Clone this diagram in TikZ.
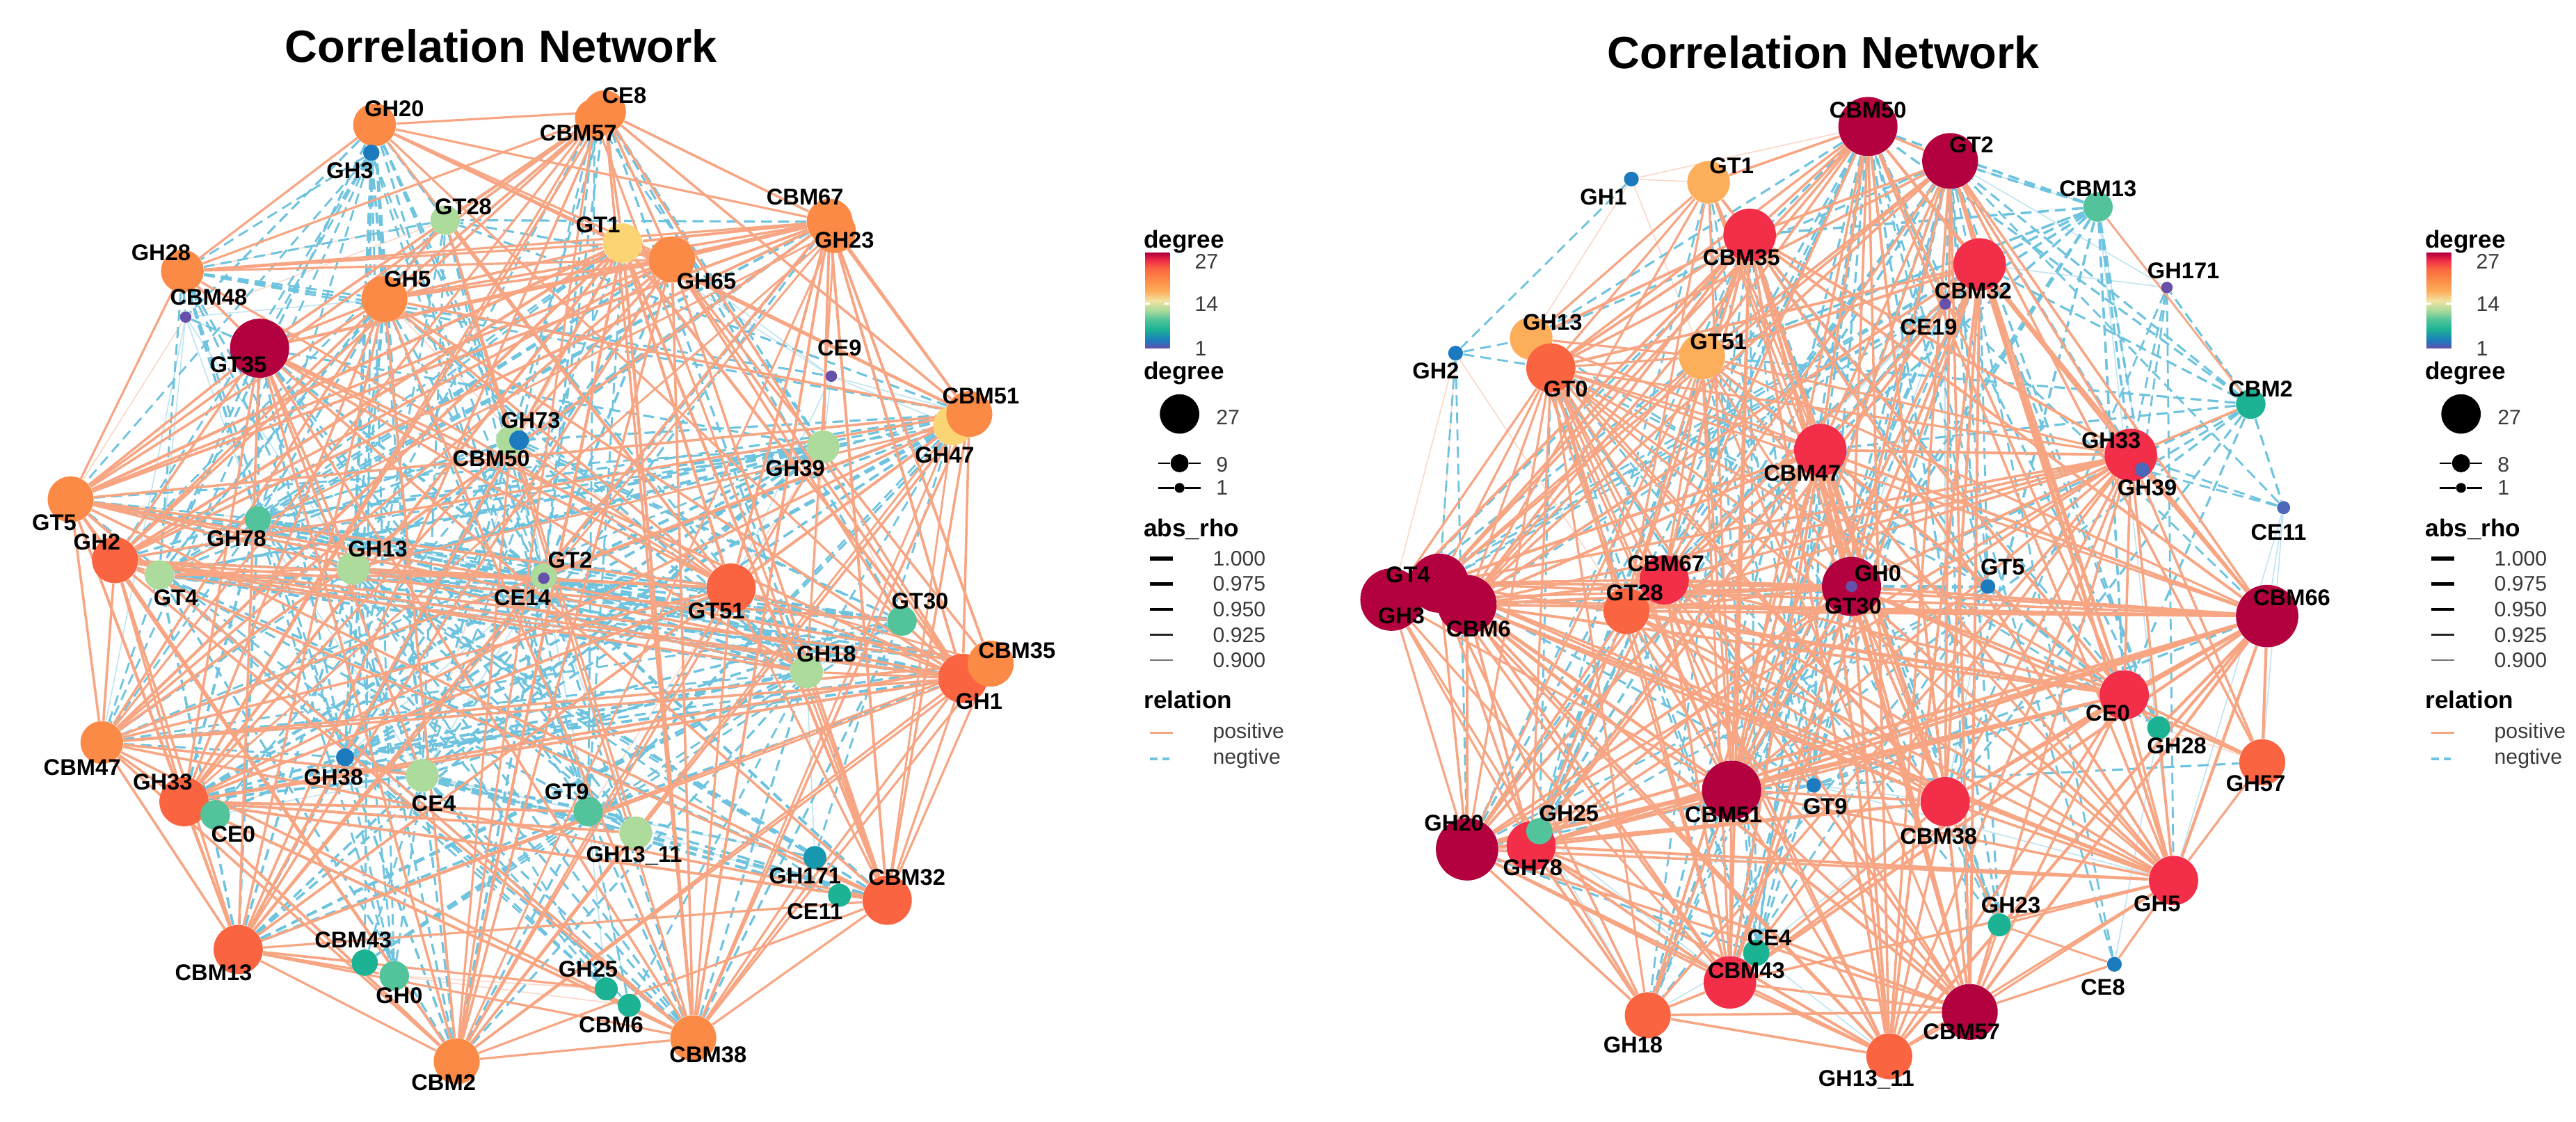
\documentclass[tikz,border=0pt]{standalone}
\usepackage{fontspec}
\setmainfont{Liberation Sans}
\pgfdeclarelayer{bg}
\pgfdeclarelayer{edges}
\pgfsetlayers{bg,edges,main}
\definecolor{cC}{HTML}{B3003E}
\definecolor{cR}{HTML}{F22E48}
\definecolor{cRO}{HTML}{FA6440}
\definecolor{cO}{HTML}{FC8A47}
\definecolor{cLO}{HTML}{FDAE5B}
\definecolor{cY}{HTML}{FBD473}
\definecolor{cYL}{HTML}{F3E2A0}
\definecolor{cLG}{HTML}{ACDB9C}
\definecolor{cG}{HTML}{52C39A}
\definecolor{cT}{HTML}{1CB394}
\definecolor{cTB}{HTML}{1898B0}
\definecolor{cB}{HTML}{1C7BBE}
\definecolor{cBP}{HTML}{4C66B8}
\definecolor{cP}{HTML}{6650AA}
\definecolor{posc}{HTML}{F7A582}
\definecolor{negc}{HTML}{6EC3DF}
\definecolor{legtxt}{HTML}{3A3A3A}
\pgfdeclareverticalshading{spectral}{100bp}{color(0bp)=(cP); color(25bp)=(cP); color(29bp)=(cB); color(35bp)=(cT); color(40bp)=(cG); color(45bp)=(cLG); color(50bp)=(cYL); color(55bp)=(cLO); color(61bp)=(cO); color(67bp)=(cRO); color(71bp)=(cR); color(75bp)=(cC); color(100bp)=(cC)}
\newcommand\labfont{\bfseries\fontsize{9.3}{10}\selectfont}
\newcommand\legendbox[2]{%
  \node[lgt] (#1t1) at (696,147) {degree};
  \shade[shading=spectral] (697,154) rectangle (712,212);
  \draw[white, line width=0.8pt] (697,185) -- (700,185) (709,185) -- (712,185);
  \node[lgl] (#1c27) at (727,159) {27};
  \node[lgl] (#1c14) at (727,185) {14};
  \node[lgl] (#1c1) at (727,212) {1};
  \node[lgt] (#1t2) at (696,227) {degree};
  \node[circle, fill=black, inner sep=0pt, minimum size=24*0.023616cm] (#1s27) at (718,252) {};
  \node[lgl] (#1l27) at (740,254) {27};
  \node[circle, fill=black, inner sep=0pt, minimum size=11*0.023616cm] (#1s9) at (718,282) {};
  \coordinate (#1a9) at (705,282); \coordinate (#1b9) at (731,282);
  \draw[line width=0.7pt] (#1a9) -- (#1s9) -- (#1b9);
  \node[lgl] (#1l9) at (740,283) {#2};
  \node[circle, fill=black, inner sep=0pt, minimum size=6*0.023616cm] (#1s1) at (718,297) {};
  \coordinate (#1a1) at (705,297); \coordinate (#1b1) at (731,297);
  \draw[line width=0.7pt] (#1a1) -- (#1s1) -- (#1b1);
  \node[lgl] (#1l1) at (740,297) {1};
  \node[lgt] (#1t3) at (696,322) {abs\_rho};
  \foreach \yy/\ww/\cc/\tt [count=\i] in {340/1.7/black/1.000, 355.5/1.5/black/0.975, 371/1.2/black/0.950, 386.5/0.9/black!85/0.925, 402/0.6/black!55/0.900}{
    \coordinate (#1ra\i) at (700,\yy); \coordinate (#1rb\i) at (714,\yy);
    \draw[line width=\ww pt, draw=\cc] (#1ra\i) -- (#1rb\i);
    \node[lgl] (#1rl\i) at (738,\yy) {\tt};
  }
  \node[lgt] (#1t4) at (696,426) {relation};
  \coordinate (#1pa) at (700,446); \coordinate (#1pb) at (714,446);
  \draw[draw=posc, line width=0.9pt] (#1pa) -- (#1pb);
  \node[lgl] (#1pl) at (738,446) {positive};
  \coordinate (#1na) at (700,462); \coordinate (#1nb) at (714,462);
  \draw[draw=negc, line width=0.9pt, dash pattern=on 3pt off 2pt] (#1na) -- (#1nb);
  \node[lgl] (#1nl) at (738,462) {negtive};
}
\begin{document}
\begin{tikzpicture}[x=0.023616cm, y=-0.023616cm,
  nd/.style 2 args={circle, fill=#1, inner sep=0pt, minimum size=#2*0.047232cm},
  lab/.style={font=\labfont, inner sep=0pt, text=black},
  ttl/.style={font=\bfseries\fontsize{18.5}{20}\selectfont, inner sep=0pt},
  lgt/.style={font=\bfseries\fontsize{10}{11}\selectfont, anchor=west, inner sep=0pt},
  lgl/.style={font=\fontsize{8.6}{10}\selectfont, text=legtxt, anchor=west, inner sep=0pt},
  ep/.style={draw=posc, line width=#1pt},
  en/.style={draw=negc, line width=#1pt, dash pattern=on 4.5pt off 2.5pt},
  ef/.style={draw=posc!45, line width=0.45pt},
  eg/.style={draw=negc!45, line width=0.45pt}]
\useasboundingbox (0,0) rectangle (1568,683);
\begin{pgfonlayer}{bg}
\fill[white] (0,0) rectangle (1568,683);
\end{pgfonlayer}

\node[ttl] (titleL) at (305,28) {Correlation Network};
\node[ttl] (titleR) at (1110,32) {Correlation Network};

% ---------------- left network nodes
\node[nd={cO}{13}] (LGH20) at (228,76) {};
\node[nd={cB}{5}] (LGH3) at (226,93) {};
\node[nd={cO}{12}] (LCBM57) at (362,72) {};
\node[nd={cO}{13}] (LCE8) at (368,68) {};
\node[nd={cLG}{9}] (LGT28) at (271,134) {};
\node[nd={cY}{12}] (LGT1) at (379,148) {};
\node[nd={cO}{14}] (LGH65) at (409,158) {};
\node[nd={cO}{13}] (LGH23) at (508,141) {};
\node[nd={cO}{14}] (LCBM67) at (505,135) {};
\node[nd={cO}{13}] (LGH28) at (111,165) {};
\node[nd={cP}{3.5}] (LCBM48) at (113,193) {};
\node[nd={cO}{14}] (LGH5) at (234,182) {};
\node[nd={cC}{18}] (LGT35) at (158,212) {};
\node[nd={cP}{3.5}] (LCE9) at (506,229) {};
\node[nd={cY}{12}] (LGH47) at (580,259) {};
\node[nd={cO}{14}] (LCBM51) at (590,252) {};
\node[nd={cLG}{10}] (LGH39) at (501,272) {};
\node[nd={cLG}{9}] (LCBM50) at (311,268) {};
\node[nd={cB}{6}] (LGH73) at (316,268) {};
\node[nd={cO}{14}] (LGT5) at (43,304) {};
\node[nd={cG}{8}] (LGH78) at (157,316) {};
\node[nd={cRO}{14}] (LGH2) at (70,341) {};
\node[nd={cLG}{9}] (LGT4) at (97,350) {};
\node[nd={cLG}{10}] (LGH13) at (215,346) {};
\node[nd={cLG}{8}] (LGT2) at (331,351) {};
\node[nd={cP}{3.5}] (LCE14) at (331,352) {};
\node[nd={cRO}{15}] (LGT51) at (445,358) {};
\node[nd={cG}{9}] (LGT30) at (549,378) {};
\node[nd={cLG}{10}] (LGH18) at (491,409) {};
\node[nd={cRO}{15}] (LGH1) at (586,413) {};
\node[nd={cO}{14}] (LCBM35) at (603,404) {};
\node[nd={cO}{13}] (LCBM47) at (62,452) {};
\node[nd={cB}{5.5}] (LGH38) at (210,461) {};
\node[nd={cLG}{10}] (LCE4) at (257,472) {};
\node[nd={cRO}{15}] (LGH33) at (112,488) {};
\node[nd={cG}{9}] (LCE0) at (131,496) {};
\node[nd={cG}{9}] (LGT9) at (358,494) {};
\node[nd={cLG}{10}] (LGH1311) at (387,507) {};
\node[nd={cTB}{7}] (LGH171) at (496,522) {};
\node[nd={cT}{7}] (LCE11) at (511,545) {};
\node[nd={cRO}{15}] (LCBM32) at (540,548) {};
\node[nd={cRO}{15}] (LCBM13) at (145,578) {};
\node[nd={cT}{8}] (LCBM43) at (222,586) {};
\node[nd={cG}{9}] (LGH0) at (240,594) {};
\node[nd={cT}{7}] (LGH25) at (369,602) {};
\node[nd={cT}{7}] (LCBM6) at (383,612) {};
\node[nd={cO}{14}] (LCBM2) at (278,646) {};
\node[nd={cO}{14}] (LCBM38) at (422,632) {};

% ---------------- right network nodes
\node[nd={cC}{18}] (RCBM50) at (1137,77) {};
\node[nd={cC}{17}] (RGT2) at (1187,98) {};
\node[nd={cB}{4.5}] (RGH1) at (993,109) {};
\node[nd={cLO}{13}] (RGT1) at (1040,111) {};
\node[nd={cG}{9}] (RCBM13) at (1277,126) {};
\node[nd={cR}{16}] (RCBM35) at (1065,143) {};
\node[nd={cR}{16}] (RCBM32) at (1205,161) {};
\node[nd={cP}{3.5}] (RCE19) at (1184,185) {};
\node[nd={cP}{3.5}] (RGH171) at (1319,175) {};
\node[nd={cB}{4.5}] (RGH2) at (886,215) {};
\node[nd={cLO}{13}] (RGH13) at (932,206) {};
\node[nd={cRO}{15}] (RGT0) at (944,224) {};
\node[nd={cLO}{14}] (RGT51) at (1036,217) {};
\node[nd={cT}{9}] (RCBM2) at (1370,246) {};
\node[nd={cR}{16}] (RCBM47) at (1108,274) {};
\node[nd={cR}{16}] (RGH33) at (1297,277) {};
\node[nd={cBP}{4.5}] (RGH39) at (1304,286) {};
\node[nd={cBP}{4}] (RCE11) at (1390,309) {};
\node[nd={cC}{19}] (RGH3) at (847,365) {};
\node[nd={cC}{18}] (RGT4) at (876,355) {};
\node[nd={cC}{18}] (RCBM6) at (893,368) {};
\node[nd={cR}{15}] (RCBM67) at (1013,353) {};
\node[nd={cRO}{14}] (RGT28) at (990,372) {};
\node[nd={cC}{18}] (RGH0) at (1127,357) {};
\node[nd={cP}{3.5}] (RGT30) at (1127,357) {};
\node[nd={cB}{4.5}] (RGT5) at (1210,357) {};
\node[nd={cC}{19}] (RCBM66) at (1380,375) {};
\node[nd={cR}{15}] (RCE0) at (1293,423) {};
\node[nd={cT}{7}] (RGH28) at (1314,443) {};
\node[nd={cRO}{14}] (RGH57) at (1377,464) {};
\node[nd={cC}{19}] (RGH20) at (893,517) {};
\node[nd={cR}{15}] (RGH78) at (932,515) {};
\node[nd={cG}{8}] (RGH25) at (937,506) {};
\node[nd={cC}{18}] (RCBM51) at (1054,481) {};
\node[nd={cB}{4.5}] (RGT9) at (1104,478) {};
\node[nd={cR}{15}] (RCBM38) at (1184,488) {};
\node[nd={cR}{15}] (RGH5) at (1323,536) {};
\node[nd={cT}{7}] (RGH23) at (1217,563) {};
\node[nd={cR}{16}] (RCBM43) at (1053,598) {};
\node[nd={cT}{8}] (RCE4) at (1069,580) {};
\node[nd={cB}{4.5}] (RCE8) at (1287,587) {};
\node[nd={cRO}{14}] (RGH18) at (1003,618) {};
\node[nd={cC}{17}] (RCBM57) at (1199,616) {};
\node[nd={cRO}{14}] (RGH1311) at (1150,643) {};

% ---------------- edges (drawn beneath the nodes)
\begin{pgfonlayer}{edges}
% left, faint
\foreach \a/\l/\s in {GT5/{GH28,CBM48,GT35,GH78}/ef, CBM48/{GT35,GH5,GH78,GT4,CBM47,GH13}/eg, CE9/{GT1,GH65,CBM51,GH39,GH47,GT51}/eg, GH73/{GH5,GT1,GT51,GH13,CE4}/ef, CE14/{GH78,GT4,GH38,CE4,GT9,GH18}/eg, GH38/{CE0,GT9,GH1311,CE4}/ef, GT9/{GH171,CE11,GH25,CBM6}/eg, GH0/{GH25,CBM6,CBM43}/ef, GH18/{GT30,GH39,GH171}/eg, GT28/{GH28,GH20,GT35,CBM48}/ef, GH39/{GT30,GH18,GT9}/ef, CE4/{GT9,GH1311,CE0,GH78}/eg, GT2/{GT9,GH1311,GH73,GT28}/eg}{\foreach \b in \l {\draw[\s] (L\a) -- (L\b);}}
% left, negative
\foreach \a/\l/\w in {
 GH20/{GH5,GT28,CBM50,GH73,GH13,GT4,CE4,GT9,GH38,CBM48}/0.9,
 GH3/{GH28,GT35,GH78,GH13,CE14,CE4,GH38,GT9,GH0,CBM43,CBM2,GH2,GT5,CBM47}/0.8,
 GH28/{GH5,GT35,CBM48,GT28,CE9,CBM51,GH78,GT4,GH13,CE4,GH38,GH0}/0.85,
 CE8/{GH5,GT28,CBM50,GH39,GT30,GH18,GT2}/0.9,
 CBM57/{GH73,GH13,GT2,CE14,GH39,GT9}/0.8,
 CBM67/{GT28,GH73,GH13,GH78,GT4,CE14,CE4}/0.9,
 GT1/{GH78,GT4,CE4,GT9,GH38}/0.8,
 GH65/{GT28,GH78,GT4,GT2,CE14,GH38}/0.9,
 CBM51/{GT28,GH73,GH78,GT4,GH13,GT2,CE14,CE4,GH38,GT9}/0.9,
 GH47/{GH39,GH18,GT2,CE14,GH13,GH38,CE4,GT9,GH171}/0.8,
 GT35/{GH78,GT4,GH13,GT2,CE14,GH38,CE4,GT9,GH1311,CBM48,GH39}/0.9,
 GT5/{GH78,GT2,CE14,GH39,GH18,GT30,CE4}/0.8,
 GH2/{GH78,GT28,GH73,CE14,GH39}/0.8,
 CBM47/{GH78,GT4,GH13,GT2,CE14,GH38,GH39,GH18,GT30}/0.8,
 GH33/{GH78,GT2,CE14,GH38,CE4,GH39,GH18}/1.1,
 CBM13/{GH78,GT4,GH13,GT2,CE14,GH38,CE4,GH39,GH18,GT30,GT9}/1.0,
 CBM2/{GH78,GT4,GH13,GT2,CE14,GH38,CE4,GH18,GT9}/0.9,
 CBM38/{GH78,GT4,GH13,CE14,GH38,CE4,GT9,GH18,GT30}/0.9,
 CBM32/{GT4,GH13,GT2,CE14,GH38,CE4,GT9,GH1311}/1.0,
 GH1/{GT4,GH13,GT2,CE14,GH38,GT9,GH78}/1.1,
 CBM35/{GT4,GH13,CE14,GH38,GH78}/0.9,
 GT51/{GH78,GT4,GH38,CE0}/1.1,
 GT28/{GT4,CE14,GH38,GT9,CE4,GH18}/0.8,
 GH5/{GH78,GT4,GH13,CE14,GH38,GT9,GH18}/0.9,
 CBM50/{GH78,GT4,CE14,GH38,CE4,GH18,GT30}/0.9,
 GH73/{GH38,CE0,GT30}/0.8,
 GH39/{GH13,GT4,CE14,GH38,CE4,GH78}/1.2,
 GT30/{GH13,CE14,GH38,CE4,GH78,GT4}/1.0,
 GH18/{GH13,GT4,CE14,GH38,GH78}/1.1,
 GH1311/{GH13,GT4,GH78,GH38}/0.9,
 GH171/{GH38,CE4,GH13,GH78}/0.8,
 CE11/{CE4,GH38,GH13}/0.8,
 CBM43/{CE4,GT9,GH18,GT30}/0.8,
 GH0/{GH38,CE4,GH13}/0.8,
 GH25/{CE4,GH38,GH13,GT4}/0.8,
 CBM6/{CE4,GT9,GH18}/0.8}{\foreach \b in \l {\draw[en=\w] (L\a) -- (L\b);}}
% left, positive
\foreach \a/\l/\w in {
 GT35/{GH5,GT5,GH2,GT51,GH1,CBM32,CBM38,GH18,CE4,GH13,CBM67,GH65,CBM13,GH33,CBM2,GH28}/1.0,
 GH5/{GT5,GH2,CBM47,GH33,CBM13,CBM2,CBM38,GT51,GH1,CBM51,CBM67,CE8,GH65,GT1,GT28}/1.0,
 GH20/{GH28,CE8,CBM67,GT1,GH65,GT51,GH1,CBM51}/0.9,
 GH28/{GT1,GH65,CBM67,GT51,GT5}/0.9,
 CE8/{CBM67,GH65,GT1,GT28,GT35,GT5,GH2,CBM51,GH1,CBM38,CBM13,GH33}/1.0,
 CBM57/{GT35,CBM47,GH33,CBM2,CBM32,GH28}/0.9,
 CBM67/{GT1,GH65,CBM51,GH1,CBM35,CBM32,CBM38,GT51,GH2,GT5,CBM47,GH39,CBM13}/1.1,
 GH23/{CBM2,CBM13,GH33,GT4,GH18,CBM51}/0.8,
 GT1/{GH65,GT5,GH2,GH33,CBM13,CBM2,CBM38,CBM32,GH1,CBM51,GT51,CBM47}/1.2,
 GH65/{GT5,GH2,CBM47,GH33,CBM13,CBM2,CBM38,CBM32,GH1,CBM35,GT30}/1.0,
 CBM51/{GH47,GT5,GH2,CBM47,GH33,CBM13,CBM2,CBM38,CBM32,GT51,GH1,GT2}/1.0,
 GH47/{CBM38,CBM2,CBM32,CBM13,GH13}/0.8,
 GT5/{GH2,GT51,GH1,CBM35,CBM38,CBM32,CBM2,CBM13,GH33,CBM47,GT4,GH13}/1.0,
 GH2/{GT51,GH1,CBM35,CBM38,CBM32,CBM2,CBM13,GH33,CBM47,GT4,GH18,GT30}/1.0,
 CBM47/{GH33,CBM13,CBM2,CBM38,CBM32,GH1,CBM35,GT51,CE4}/1.0,
 GH33/{CBM13,CBM2,CBM38,CBM32,GH1,CBM35,GT51,GT9,GH1311,CE0}/1.1,
 CBM13/{CBM2,CBM38,CBM32,GH1,CBM35,GT51,CBM43,GH0,GH25}/0.9,
 CBM2/{CBM38,CBM32,GH1,CBM35,GT51,GH39}/0.9,
 CBM38/{CBM32,GH1,CBM35,GT51,GH171}/0.9,
 CBM32/{GH1,CBM35,GT51,CE11,GH18}/0.9,
 GH1/{CBM35,GT51,GT30,GH18}/0.9,
 GT51/{CBM35,GH13,CE14}/0.8,
 GT4/{GH13,GT2,GH1}/0.8,
 GH13/{GT2,GH18}/0.8,
 GT28/{GT51,GH1311,CBM50}/0.9,
 CBM50/{CBM2,CBM38,GT51}/0.9}{\foreach \b in \l {\draw[ep=\w] (L\a) -- (L\b);}}
% right, faint
\foreach \a/\l/\s in {GH1/{GT1,GH13,GT51,CBM50}/ef, GH2/{GH3,GT4,GT28}/ef, CBM13/{GT2,GH39,GH5}/eg, GH171/{GT2,CBM32}/eg, GT5/{CE0,GH28,CBM38}/eg, GT9/{GH20,CBM38,GH5}/eg, CE8/{GH28,GH23}/eg, CE11/{GH57,CBM66,GH5}/eg, GH28/{GH57,GH5}/ef, GH3/{GH18,GH20}/ef, CE19/{GH0,CBM38,GT28,CBM67}/eg, GH25/{GH18,CBM43,GT28}/eg, CE4/{GH18,GH1311,CBM38}/eg}{\foreach \b in \l {\draw[\s] (R\a) -- (R\b);}}
% right, negative
\foreach \a/\l/\w in {
 CBM13/{GT2,CBM50,CBM35,CBM32,GH33,GH39,CE19,CBM47,GT51,GH0,CBM38,CBM51,CE0}/1.0,
 CBM2/{GT2,CBM32,GH33,GH39,CE11,GH171,CBM50,CE0,CBM47,GT51,CBM51,GH0,CBM38}/0.9,
 GH171/{GH39,GH5,CBM38,GH33}/0.8,
 GH39/{GT2,CBM50,CBM32,CE11}/0.8,
 CE11/{GH33,GT2}/0.8,
 GH1/{GH2}/0.8,
 GH2/{GT0,GH13,GT4,GH20}/0.8,
 CE19/{GT2,CBM50,CBM47,CBM51,GT4,GH3,GH20,GH18,CBM6,CBM66,CBM57}/0.8,
 GT5/{CBM50,GT2,CBM35,GH0,CBM47,CBM32,GH20,GH78,CBM6,GT4,CBM43,GH18}/0.8,
 GT9/{CBM51,GH20,CBM47,CBM50,GT2,GT4,CBM66,CE0,GH57}/0.9,
 GH25/{GH20,CBM51,CBM50,GT2,CBM35}/1.0,
 GH28/{GT2,CBM50,CBM32,CBM66}/0.9,
 GH23/{CBM50,GT2,CBM35}/0.9,
 CE4/{GT2,CBM50,CBM32,GH20}/0.9,
 CE8/{CBM50,GT2}/0.8,
 GT30/{CBM50,GT2,CBM35}/0.8,
 CBM50/{GH3,GT4,GT28,GH20,GH78,GH18,CBM43,GH13}/0.9,
 GT2/{GH3,CBM6,GT28,GH20,GH18,CBM43,GT0,GH13}/0.9,
 CBM32/{GT4,GH3,GH20,GH18,GT28}/0.8,
 CBM35/{GH20,GH78,GH18,GT9,CE4,GH28,GT5}/0.8,
 CBM47/{GT9,GH25,CE4,GT5,GH28,GH23}/0.9,
 GT0/{GT9,GT5,CE4,GH25}/0.8,
 GH13/{GT9,CE4,GH23,GH28}/0.8,
 GT51/{GT9,CE4,GH23,GT5,GH28,CBM13}/0.8,
 GT1/{CE4,GH25,GT9}/0.8,
 GH57/{GH5,CE0,CBM66}/0.8}{\foreach \b in \l {\draw[en=\w] (R\a) -- (R\b);}}
% right, positive
\foreach \a/\l/\w in {
 CBM50/{GT2,GT1,CBM35,GT0,GT51,CBM47,GT4,CBM6,CBM67,GH0,CBM51,CBM38,CBM57,GH1311,CBM66,CE0,GH5,GH33}/1.0,
 GT2/{CBM35,CBM32,GT0,GT51,CBM47,GT4,CBM6,CBM67,GH0,CBM51,CBM38,CBM57,GH1311,CBM66,CE0,GH5,GH33,GH57}/1.0,
 CBM35/{GT1,GT0,GH13,GT51,CBM47,GT4,GH3,CBM6,GT28,CBM67,GH0,CBM51,CBM38,CBM43,CBM57,GH1311,CBM66,CE0,GH5,GH33}/1.1,
 CBM32/{GT0,GT51,CBM47,CBM6,CBM67,GH0,CBM51,CBM38,CBM43,CBM57,GH1311,CBM66,CE0,GH5,GH33,GH78}/1.1,
 GT1/{GT0,GH13,CBM47,CBM6,GT28,GH0,CBM51,CBM38}/0.9,
 GT0/{GT51,CBM47,GT4,GH3,CBM6,GT28,CBM67,GH0,GH20,GH78,CBM51,CBM38,CBM43,GH18,CBM57,GH1311,CBM66,CE0,GH5,GH33}/0.9,
 GH13/{GT51,CBM47,GT28,CBM51,CBM38,CBM57}/0.9,
 GT51/{CBM47,GT4,CBM6,GT28,CBM67,GH0,GH20,CBM51,CBM43,CBM57,CBM66,CE0,GH5,GH33}/0.9,
 CBM47/{GT4,GH3,CBM6,GT28,CBM67,GH0,GH20,GH78,CBM51,CBM38,CBM43,GH18,CBM57,GH1311,CBM66,CE0,GH5,GH33}/1.1,
 GH33/{GT4,CBM6,GT28,CBM67,GH0,GH20,GH78,CBM51,CBM38,CBM43,GH18,CBM57,GH1311,CBM66,CE0,GH5,GH57,CBM2}/1.0,
 GT4/{CBM67,GH0,CBM51,CBM38,CBM43,GH18,CBM57,GH1311,CBM66,CE0,GH5,GH20,GH78}/1.0,
 GH3/{GH0,CBM51,CBM43,GH18,GH20,GH78,CBM66}/0.9,
 CBM6/{CBM67,GH0,CBM51,CBM38,CBM43,CBM57,GH1311,CBM66,CE0,GH5,GH20,GH78}/1.1,
 CBM67/{GH0,CBM51,CBM38,CBM43,CBM57,GH1311,CBM66,CE0,GH5,GH20,GH78}/1.0,
 GT28/{GH0,CBM51,CBM38,CBM43,CBM57,CBM66,CE0,GH5,GH20,GH78}/1.0,
 GH0/{CBM66,CE0,GH5,CBM38,CBM51,CBM43,CBM57,GH1311,GH20,GH78,GH57}/1.1,
 CBM66/{CE0,GH5,CBM38,CBM51,CBM43,CBM57,GH1311,GH20,GH78,GH57,GH28}/1.2,
 CE0/{GH5,CBM38,CBM51,CBM43,CBM57,GH1311,GH20,GH78,GH28,GH57}/1.0,
 GH20/{GH78,CBM51,CBM43,GH18,CBM57,GH1311,CBM38,GH5}/1.0,
 GH78/{CBM51,CBM43,GH18,CBM57,GH1311,CBM38,GH5}/1.1,
 CBM51/{CBM38,CBM43,GH18,CBM57,GH1311,GH5}/1.0,
 CBM38/{CBM43,CBM57,GH1311,GH5,GH23}/1.0,
 CBM43/{GH18,CBM57,GH1311,GH5}/1.0,
 GH18/{GH1311,CBM57}/1.0,
 CBM57/{GH1311,GH5,GH23,CE8}/0.9,
 GH5/{GH23,CE8,GH28,GH57}/0.9,
 GH1311/{GH5}/0.9,
 CBM13/{CBM2}/0.8,
 GH23/{CE8}/0.8}{\foreach \b in \l {\draw[ep=\w] (R\a) -- (R\b);}}
\end{pgfonlayer}

% ---------------- labels, left
\node[lab] (tLGH20) at (240,66) {GH20};
\node[lab] (tLGH3) at (213,104) {GH3};
\node[lab] (tLCE8) at (380,58) {CE8};
\node[lab] (tLCBM57) at (352,81) {CBM57};
\node[lab] (tLGT28) at (282,126) {GT28};
\node[lab] (tLGT1) at (364,137) {GT1};
\node[lab] (tLGH65) at (430,171) {GH65};
\node[lab] (tLCBM67) at (490,120) {CBM67};
\node[lab] (tLGH23) at (514,146) {GH23};
\node[lab] (tLGH28) at (98,154) {GH28};
\node[lab] (tLCBM48) at (127,181) {CBM48};
\node[lab] (tLGH5) at (248,170) {GH5};
\node[lab] (tLGT35) at (145,222) {GT35};
\node[lab] (tLCE9) at (511,212) {CE9};
\node[lab] (tLCBM51) at (597,241) {CBM51};
\node[lab] (tLGH47) at (575,277) {GH47};
\node[lab] (tLGH39) at (484,285) {GH39};
\node[lab] (tLGH73) at (323,256) {GH73};
\node[lab] (tLCBM50) at (299,279) {CBM50};
\node[lab] (tLGT5) at (33,318) {GT5};
\node[lab] (tLGH78) at (144,328) {GH78};
\node[lab] (tLGH2) at (59,330) {GH2};
\node[lab] (tLGT4) at (107,364) {GT4};
\node[lab] (tLGH13) at (230,334) {GH13};
\node[lab] (tLGT2) at (347,341) {GT2};
\node[lab] (tLCE14) at (318,364) {CE14};
\node[lab] (tLGT51) at (436,372) {GT51};
\node[lab] (tLGT30) at (560,366) {GT30};
\node[lab] (tLGH18) at (503,398) {GH18};
\node[lab] (tLGH1) at (596,427) {GH1};
\node[lab] (tLCBM35) at (619,396) {CBM35};
\node[lab] (tLCBM47) at (50,467) {CBM47};
\node[lab] (tLGH38) at (203,473) {GH38};
\node[lab] (tLCE4) at (264,489) {CE4};
\node[lab] (tLGH33) at (99,476) {GH33};
\node[lab] (tLCE0) at (142,508) {CE0};
\node[lab] (tLGT9) at (345,482) {GT9};
\node[lab] (tLGH1311) at (386,521) {GH13\_11};
\node[lab] (tLGH171) at (490,533) {GH171};
\node[lab] (tLCE11) at (496,555) {CE11};
\node[lab] (tLCBM32) at (552,534) {CBM32};
\node[lab] (tLCBM13) at (130,592) {CBM13};
\node[lab] (tLCBM43) at (215,572) {CBM43};
\node[lab] (tLGH0) at (243,606) {GH0};
\node[lab] (tLGH25) at (358,590) {GH25};
\node[lab] (tLCBM6) at (372,624) {CBM6};
\node[lab] (tLCBM2) at (270,659) {CBM2};
\node[lab] (tLCBM38) at (431,642) {CBM38};

% ---------------- labels, right
\node[lab] (tRCBM50) at (1137,67) {CBM50};
\node[lab] (tRGT2) at (1200,88) {GT2};
\node[lab] (tRGH1) at (976,120) {GH1};
\node[lab] (tRGT1) at (1054,101) {GT1};
\node[lab] (tRCBM13) at (1277,115) {CBM13};
\node[lab] (tRCBM35) at (1060,157) {CBM35};
\node[lab] (tRCBM32) at (1201,177) {CBM32};
\node[lab] (tRCE19) at (1174,199) {CE19};
\node[lab] (tRGH171) at (1329,165) {GH171};
\node[lab] (tRGH2) at (874,226) {GH2};
\node[lab] (tRGH13) at (945,196) {GH13};
\node[lab] (tRGT0) at (953,237) {GT0};
\node[lab] (tRGT51) at (1046,208) {GT51};
\node[lab] (tRCBM2) at (1376,237) {CBM2};
\node[lab] (tRCBM47) at (1097,288) {CBM47};
\node[lab] (tRGH33) at (1285,268) {GH33};
\node[lab] (tRGH39) at (1307,297) {GH39};
\node[lab] (tRCE11) at (1387,324) {CE11};
\node[lab] (tRGT4) at (857,350) {GT4};
\node[lab] (tRGH3) at (853,375) {GH3};
\node[lab] (tRCBM6) at (900,383) {CBM6};
\node[lab] (tRCBM67) at (1014,343) {CBM67};
\node[lab] (tRGT28) at (995,361) {GT28};
\node[lab] (tRGH0) at (1143,349) {GH0};
\node[lab] (tRGT30) at (1128,369) {GT30};
\node[lab] (tRGT5) at (1219,345) {GT5};
\node[lab] (tRCBM66) at (1395,364) {CBM66};
\node[lab] (tRCE0) at (1283,434) {CE0};
\node[lab] (tRGH28) at (1325,454) {GH28};
\node[lab] (tRGH57) at (1373,477) {GH57};
\node[lab] (tRGH20) at (885,501) {GH20};
\node[lab] (tRGH25) at (955,495) {GH25};
\node[lab] (tRGH78) at (933,528) {GH78};
\node[lab] (tRCBM51) at (1049,496) {CBM51};
\node[lab] (tRGT9) at (1111,491) {GT9};
\node[lab] (tRCBM38) at (1180,509) {CBM38};
\node[lab] (tRGH5) at (1313,550) {GH5};
\node[lab] (tRGH23) at (1224,551) {GH23};
\node[lab] (tRCE4) at (1077,571) {CE4};
\node[lab] (tRCBM43) at (1063,591) {CBM43};
\node[lab] (tRCE8) at (1280,601) {CE8};
\node[lab] (tRGH18) at (994,636) {GH18};
\node[lab] (tRCBM57) at (1194,628) {CBM57};
\node[lab] (tRGH1311) at (1136,657) {GH13\_11};

% ---------------- legends
\legendbox{LL}{9}
\begin{scope}[shift={(780,0)}]
\legendbox{RL}{8}
\end{scope}
\end{tikzpicture}
\end{document}
